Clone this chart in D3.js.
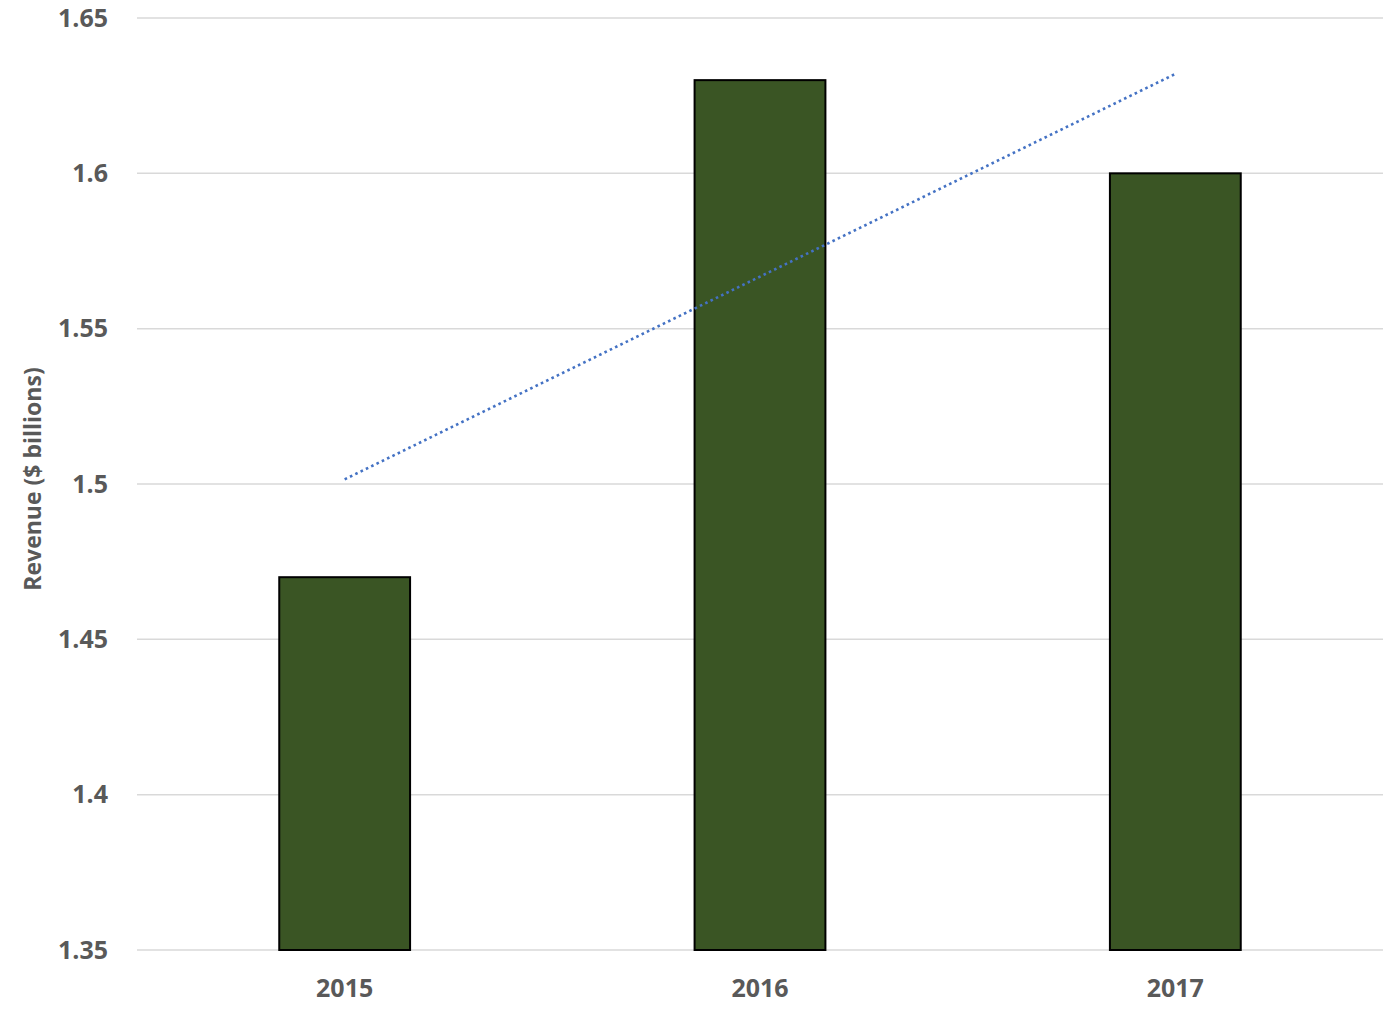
<!DOCTYPE html>
<html>
<head>
<meta charset="utf-8">
<script src="https://cdn.jsdelivr.net/npm/d3@7"></script>
<style>
    body { margin: 0; background: #fff; }
    .revenue-grid { stroke: #d9d9d9; stroke-width: 1.5; fill: none; }
    .revenue-axis text { fill: #595959; font-family: 'Open Sans', Lato, sans-serif; font-weight: 700; }
    .revenue-axis-label { fill: #595959; font-family: 'Open Sans', Lato, sans-serif; font-weight: 700; font-size: 23px; }
    .revenue-bar { fill: #3a5524; stroke: #000; stroke-width: 2; }
    .revenue-trend { stroke: #4472c4; stroke-width: 2.6; stroke-dasharray: 2.6 3.3; fill: none; }
</style>
</head>
<body>
<div id="chart"></div>
<script>
const years = ['2015', '2016', '2017']
const revenue = [1.47, 1.63, 1.60]
// linear trendline ends (at 2015 and 2017)
const trendYears = ['2015', '2017']
const trendValues = [1.5015, 1.632]
const yTicks = [1.35, 1.4, 1.45, 1.5, 1.55, 1.6, 1.65]
const yTickLabels = ['1.35', '1.4', '1.45', '1.5', '1.55', '1.6', '1.65']

const layout = { left: 137, top: 18, right: 17, bottom: 62, width: 1400 - 137 - 17, height: 1012 - 18 - 62 }

const xScale = d3.scaleBand().domain(years).range([0, layout.width]).padding(0)
const yScale = d3.scaleLinear().domain([1.35, 1.65]).range([layout.height, 0])
const barWidth = xScale.bandwidth() * 0.315

const svg = d3.select('#chart').append('svg')
    .attr('width', layout.width + layout.left + layout.right)
    .attr('height', layout.height + layout.top + layout.bottom)

const g = svg.append('g')
    .attr('transform', 'translate(' + layout.left + ',' + layout.top + ')')

g.append('g').selectAll('.revenue-grid')
    .data(yTicks)
    .enter()
    .append('path')
    .attr('class', 'revenue-grid')
    .attr('d', t => `M 0 ${yScale(t)} H ${layout.width}`)

const yAxisEl = g.append('g')
    .attr('class', 'revenue-axis')
    .call(d3.axisLeft(yScale).tickValues(yTicks).tickSize(0).tickPadding(29)
        .tickFormat((d, i) => yTickLabels[i]))
yAxisEl.select('.domain').remove()
yAxisEl.selectAll('text').style('font-size', '25px')

const xAxisEl = g.append('g')
    .attr('class', 'revenue-axis')
    .attr('transform', 'translate(0,' + layout.height + ')')
    .call(d3.axisBottom(xScale).tickSize(0).tickPadding(29))
xAxisEl.select('.domain').remove()
xAxisEl.selectAll('text').style('font-size', '25px')

g.append('text')
    .attr('class', 'revenue-axis-label')
    .attr('transform', 'rotate(-90)')
    .attr('x', -(yScale(1.5) - 5))
    .attr('y', -96)
    .attr('text-anchor', 'middle')
    .text('Revenue ($ billions)')

g.append('g').selectAll('.revenue-bar')
    .data(years.map((y, i) => ({ year: y, value: revenue[i] })))
    .enter()
    .append('rect')
    .attr('class', 'revenue-bar')
    .attr('x', d => xScale(d.year) + (xScale.bandwidth() - barWidth) / 2)
    .attr('y', d => yScale(d.value))
    .attr('width', barWidth)
    .attr('height', d => yScale(1.35) - yScale(d.value))

const trendLine = d3.line()
    .x(d => xScale(d.year) + xScale.bandwidth() / 2)
    .y(d => yScale(d.value))
g.append('path')
    .datum(trendYears.map((y, i) => ({ year: y, value: trendValues[i] })))
    .attr('class', 'revenue-trend')
    .attr('d', trendLine)
</script>
</body>
</html>
